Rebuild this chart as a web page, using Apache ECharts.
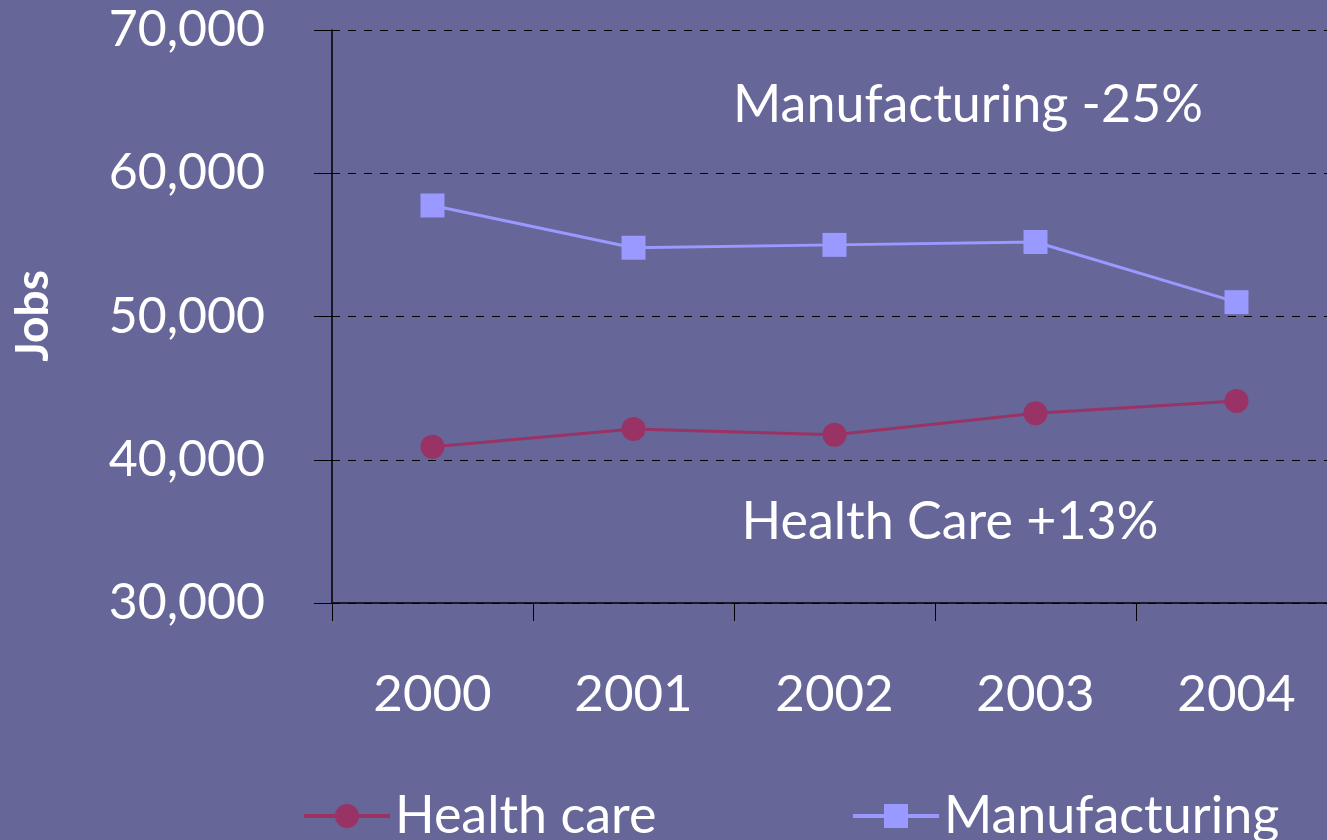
<!DOCTYPE html>
<html><head><meta charset="utf-8">
<script src="https://cdn.jsdelivr.net/npm/echarts@6/dist/echarts.min.js"></script>
<style>html,body{margin:0;padding:0;background:#666699;}#c{width:1327px;height:840px;}</style>
</head><body><div id="c"></div>
<script>
const years = ['2000','2001','2002','2003','2004'];
const healthCare = [40900, 42150, 41750, 43250, 44100];
const manufacturing = [57750, 54800, 55000, 55200, 51000];
const yTicks = {min: 30000, max: 70000, interval: 10000};
const FONT = 'Lato';
const chart = echarts.init(document.getElementById('c'));
chart.setOption({
  backgroundColor: '#666699',
  animation: false,
  textStyle: {fontFamily: FONT},
  grid: {left: 332, top: 30, bottom: 237, right: -10, containLabel: false, outerBoundsMode: 'none'},
  xAxis: {
    type: 'category', data: years, boundaryGap: true,
    axisLine: {lineStyle: {color: '#000', width: 1.5}},
    axisTick: {show: true, length: 18, lineStyle: {color: '#000'}},
    axisLabel: {color: '#fff', fontSize: 51, margin: 66, fontFamily: FONT}
  },
  yAxis: {
    type: 'value', min: yTicks.min, max: yTicks.max, interval: yTicks.interval,
    axisLine: {show: true, lineStyle: {color: '#000', width: 1.5}},
    axisTick: {show: true, length: 18, lineStyle: {color: '#000'}},
    axisLabel: {color: '#fff', fontSize: 50, margin: 67, fontFamily: FONT,
      formatter: v => v.toLocaleString('en-US')},
    splitLine: {show: true, lineStyle: {color: '#000', type: [8, 8], width: 1}}
  },
  legend: [
    {data: ['Health care'], left: 297, top: 785, itemWidth: 86, itemHeight: 30, itemGap: 10,
     lineStyle: {width: 4},
     textStyle: {color: '#fff', fontSize: 52, fontFamily: FONT}},
    {data: ['Manufacturing'], left: 846, top: 785, itemWidth: 86, itemHeight: 30, itemGap: 10,
     lineStyle: {width: 4},
     textStyle: {color: '#fff', fontSize: 52, fontFamily: FONT}}
  ],
  graphic: [
    {type: 'text', x: 968, y: 105, style: {text: 'Manufacturing -25%', fill: '#fff', fontSize: 52, fontFamily: 'Lato', align: 'center', verticalAlign: 'middle'}},
    {type: 'text', x: 950, y: 522, style: {text: 'Health Care +13%', fill: '#fff', fontSize: 52, fontFamily: 'Lato', align: 'center', verticalAlign: 'middle'}},
    {type: 'text', x: 33, y: 316, rotation: Math.PI / 2, style: {text: 'Jobs', fill: '#fff', fontSize: 46, fontWeight: 'bold', fontFamily: 'Lato', align: 'center', verticalAlign: 'middle'}}
  ],
  series: [
    {name: 'Health care', type: 'line', data: healthCare, symbol: 'circle', symbolSize: 24,
     itemStyle: {color: '#993366'}, lineStyle: {color: '#993366', width: 3}},
    {name: 'Manufacturing', type: 'line', data: manufacturing, symbol: 'rect', symbolSize: 24,
     itemStyle: {color: '#9999FF'}, lineStyle: {color: '#9999FF', width: 3}}
  ]
});
</script></body></html>
